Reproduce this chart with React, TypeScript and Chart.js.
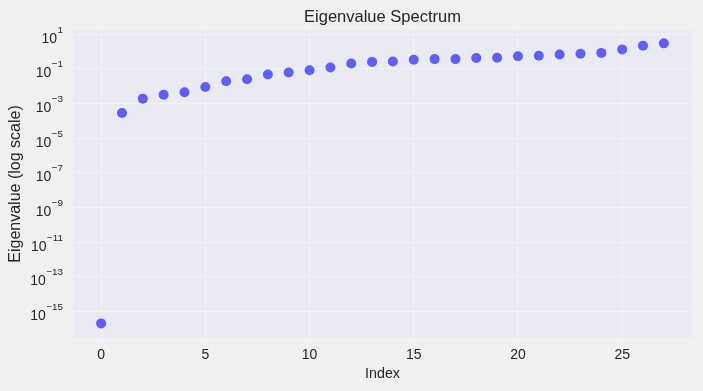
import { useEffect, useRef } from 'react';
import { Chart, registerables } from 'chart.js';

Chart.register(...registerables);

const indices = [0, 1, 2, 3, 4, 5, 6, 7, 8, 9, 10, 11, 12, 13, 14, 15, 16, 17, 18, 19, 20, 21, 22, 23, 24, 25, 26, 27];
const eigenvalues = [
  2.1e-16, 2.9e-4, 1.95e-3, 3.3e-3, 4.6e-3, 9.1e-3, 0.0195, 0.0257, 0.048, 0.063,
  0.085, 0.123, 0.209, 0.257, 0.269, 0.339, 0.372, 0.372, 0.427, 0.447,
  0.55, 0.575, 0.69, 0.76, 0.85, 1.35, 2.19, 3.02,
];
const xTickValues = [0, 5, 10, 15, 20, 25];
const yTickExponents = [1, -1, -3, -5, -7, -9, -11, -13, -15];
const chartTitle = 'Eigenvalue Spectrum';
const xLabel = 'Index';
const yLabel = 'Eigenvalue (log scale)';

const FONT = '"Liberation Sans", Arial, sans-serif';
const TEXT = '#262626';

const decorPlugin = {
  id: 'decor',
  beforeDraw(chart: any) {
    const { ctx, chartArea } = chart;
    ctx.save();
    ctx.fillStyle = '#f0f0f0';
    ctx.fillRect(0, 0, chart.width, chart.height);
    ctx.fillStyle = '#eaeaf2';
    ctx.fillRect(chartArea.left, chartArea.top, chartArea.right - chartArea.left, chartArea.bottom - chartArea.top);
    ctx.restore();
  },
  afterDraw(chart: any) {
    const { ctx, chartArea } = chart;
    const yScale = chart.scales.y;
    ctx.save();
    ctx.fillStyle = TEXT;
    // title
    ctx.font = `16.5px ${FONT}`;
    ctx.textAlign = 'center';
    ctx.textBaseline = 'middle';
    ctx.fillText(chartTitle, (chartArea.left + chartArea.right) / 2, 17);
    // y label
    ctx.save();
    ctx.translate(16, (chartArea.top + chartArea.bottom) / 2);
    ctx.rotate(-Math.PI / 2);
    ctx.font = `16px ${FONT}`;
    ctx.fillText(yLabel, 0, 0);
    ctx.restore();
    // y tick labels with superscript exponents
    const rightEdge = chartArea.left - 10;
    ctx.textBaseline = 'alphabetic';
    ctx.textAlign = 'left';
    for (const e of yTickExponents) {
      const y = yScale.getPixelForValue(Math.pow(10, e));
      const expStr = e < 0 ? '\u2212' + String(-e) : String(e);
      ctx.font = `9.8px ${FONT}`;
      const ew = ctx.measureText(expStr).width;
      ctx.font = `14px ${FONT}`;
      const bw = ctx.measureText('10').width;
      const bx = rightEdge - ew - bw - 0.5;
      ctx.fillText('10', bx, y + 8.5);
      ctx.font = `9.8px ${FONT}`;
      ctx.fillText(expStr, bx + bw + 0.5, y - 1.5);
    }
    ctx.restore();
  },
};

export default function App() {
  const ref = useRef<HTMLCanvasElement | null>(null);
  useEffect(() => {
    const canvas = ref.current;
    if (!canvas) return;
    const gridColor = 'rgba(255,255,255,0.38)';
    const chart = new Chart(canvas, {
      type: 'scatter',
      data: {
        datasets: [
          {
            data: indices.map((x, i) => ({ x, y: eigenvalues[i] })),
            backgroundColor: 'rgba(0,0,255,0.6)',
            borderWidth: 0,
            pointRadius: 5,
            pointHoverRadius: 5,
          },
        ],
      },
      options: {
        responsive: false,
        animation: false,
        devicePixelRatio: 1,
        layout: { padding: { top: 30, right: 11, left: 0, bottom: 0 } },
        plugins: { legend: { display: false }, tooltip: { enabled: false }, title: { display: false } },
        scales: {
          x: {
            type: 'linear',
            min: -1.35,
            max: 28.35,
            afterBuildTicks: (s: any) => {
              s.ticks = xTickValues.map((v) => ({ value: v }));
            },
            afterFit: (s: any) => {
              s.height = 53;
            },
            grid: { color: gridColor, drawTicks: false, lineWidth: 1 },
            border: { display: false },
            ticks: { font: { family: FONT, size: 14 }, color: TEXT, padding: 9 },
            title: {
              display: true,
              text: xLabel,
              font: { family: FONT, size: 14.3 },
              color: TEXT,
              padding: { top: 2, bottom: 8.5 },
            },
          },
          y: {
            type: 'logarithmic',
            min: Math.pow(10, -16.52),
            max: Math.pow(10, 1.25),
            afterBuildTicks: (s: any) => {
              s.ticks = yTickExponents.map((e) => ({ value: Math.pow(10, e) }));
            },
            afterFit: (s: any) => {
              s.width = 73;
            },
            grid: { color: gridColor, drawTicks: false, lineWidth: 1 },
            border: { display: false },
            ticks: { display: false },
          },
        },
      },
      plugins: [decorPlugin],
    } as any);
    return () => chart.destroy();
  }, []);
  return (
    <div style={{ position: 'fixed', left: 0, top: 0, width: 703, height: 391, background: '#f0f0f0' }}>
      <canvas ref={ref} width={703} height={391} style={{ width: 703, height: 391, display: 'block' }} />
    </div>
  );
}
